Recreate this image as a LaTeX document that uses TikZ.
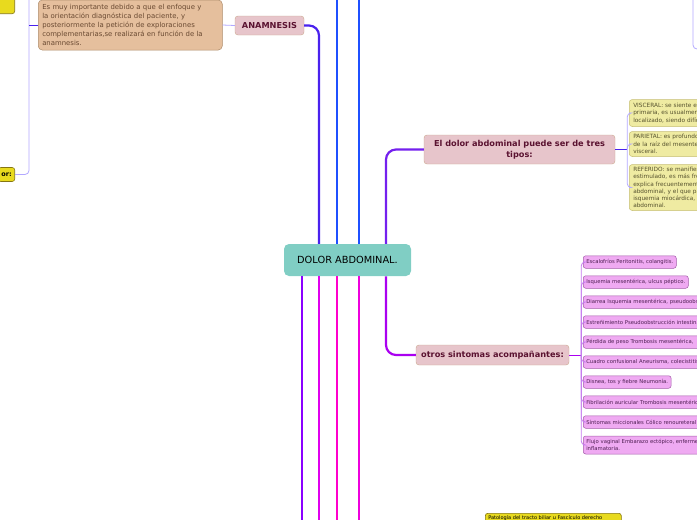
\documentclass[tikz,border=0pt]{standalone}
\usepackage{fontspec}
\setmainfont{DejaVu Sans}
\definecolor{mapteal}{HTML}{80CEC4}
\definecolor{topicpink}{HTML}{E7C5CB}
\definecolor{topicline}{HTML}{C9A98E}
\definecolor{topicmaroon}{HTML}{5A1230}
\definecolor{tanfill}{HTML}{E5BF9D}
\definecolor{tanline}{HTML}{AE8C6A}
\definecolor{tantext}{HTML}{6A4A32}
\definecolor{khakifill}{HTML}{EFEBA2}
\definecolor{khakiline}{HTML}{C6BE74}
\definecolor{khakitext}{HTML}{56522E}
\definecolor{mauvefill}{HTML}{EFAAF2}
\definecolor{mauveline}{HTML}{A45CAA}
\definecolor{mauvetext}{HTML}{4E1E52}
\definecolor{yelfill}{HTML}{E8DA1E}
\definecolor{yelline}{HTML}{857512}
\definecolor{lavline}{HTML}{B2A8FF}
\definecolor{mauvebrack}{HTML}{C47AEE}
\definecolor{indigoline}{HTML}{4A22EE}
\definecolor{blueline}{HTML}{1F50FF}
\definecolor{violetline}{HTML}{7420EE}
\definecolor{purpline}{HTML}{8A00FF}
\definecolor{magline}{HTML}{E000EE}
\definecolor{pinkline}{HTML}{FF00CC}
\definecolor{fuchline}{HTML}{EE00DD}
\definecolor{grapeline}{HTML}{AA00F0}
\begin{document}
\begin{tikzpicture}[x=1pt,y=-1pt,line width=.5pt,
  central/.style={rounded corners=5pt,fill=mapteal,inner sep=0pt,minimum width=127,minimum height=32,font=\fontsize{9.8}{11}\selectfont},
  topic/.style={rounded corners=3pt,fill=topicpink,draw=topicline,line width=.4pt,text=topicmaroon,inner sep=0pt,align=center,font=\bfseries\fontsize{8.2}{10.5}\selectfont},
  tanbox/.style={rounded corners=4pt,fill=tanfill,draw=tanline,text=tantext,inner xsep=4pt,inner ysep=0pt,align=left,font=\fontsize{6.9}{9}\selectfont},
  khakibox/.style={rounded corners=3pt,fill=khakifill,draw=khakiline,text=khakitext,inner xsep=4pt,inner ysep=2pt,text width=130,align=left,font=\fontsize{5.8}{7.2}\selectfont},
  mauvebox/.style={rounded corners=2.5pt,fill=mauvefill,draw=mauveline,text=mauvetext,inner xsep=3pt,inner ysep=0pt,minimum height=12.5,font=\fontsize{5.3}{6.8}\selectfont},
  cutbox/.style={mauvebox,text width=175,align=left},
  yelbox/.style={rounded corners=2.5pt,fill=yelfill,draw=yelline,line width=.6pt,text=black,inner xsep=3pt,inner ysep=2pt},
  trunk/.style={line width=2.2pt,rounded corners=10pt},
  twig/.style={line width=.8pt,rounded corners=4pt}]
\path[use as bounding box] (0,0) rectangle (697,520);
\coordinate (kL) at (29,0);
\coordinate (kR) at (693,0);
\coordinate (kRend) at (700,49);
\coordinate (kA) at (302,520);
\coordinate (kB) at (319,520);
\coordinate (kC) at (337,520);
\coordinate (kD) at (359,520);
\coordinate (kE) at (386,520);
\coordinate (kCtop) at (337,0);
\coordinate (kDtop) at (359,0);
\node[central] (dolor) at (347.5,260) {DOLOR ABDOMINAL.};
\node[topic,minimum width=69,minimum height=19] (anam) at (269.5,25.5) {ANAMNESIS};
\node[tanbox,anchor=west,minimum height=50,text width=176] (tan) at (38,25) {Es muy importante debido a que el enfoque y\\la orientación diagnóstica del paciente, y\\posteriormente la petición de exploraciones\\complementarias,se realizará en función de la\\anamnesis.};
\node[yelbox,anchor=south east,minimum width=30,minimum height=22] (ytop) at (15,14) {};
\node[yelbox,anchor=east,minimum height=14,font=\bfseries\fontsize{6.5}{8}\selectfont] (orbox) at (15,174.5) {or:};
\node[topic,minimum width=191,minimum height=29] (eldolor) at (519.5,149.5) {El dolor abdominal puede ser de tres\\tipos:};
\node[khakibox,anchor=west,minimum height=27] (visc) at (629,113) {VISCERAL: se siente en\\primaria, es usualmente\\localizado, siendo difícil};
\node[khakibox,anchor=west,minimum height=25] (pari) at (629,144) {PARIETAL: es profundo\\de la raíz del mesenterio\\visceral.};
\node[khakibox,anchor=west,minimum height=46] (refe) at (629,187.5) {REFERIDO: se manifiesta\\estimulado, es más frecuente\\explica frecuentemente\\abdominal, y el que padece\\isquemia miocárdica, puede\\abdominal.};
\node[topic,minimum width=153,minimum height=20] (otros) at (492.5,355) {otros sintomas acompañantes:};
\node[mauvebox,anchor=west] (s1) at (583,262) {Escalofríos Peritonitis, colangitis.};
\node[mauvebox,anchor=west] (s2) at (583,282) {Isquemia mesentérica, ulcus péptico.};
\node[cutbox,anchor=west] (s3) at (583,302) {Diarrea Isquemia mesentérica, pseudoobstrucción};
\node[cutbox,anchor=west] (s4) at (583,322) {Estreñimiento Pseudoobstrucción intestinal};
\node[cutbox,anchor=west] (s5) at (583,342) {Pérdida de peso Trombosis mesentérica,};
\node[cutbox,anchor=west] (s6) at (583,362) {Cuadro confusional Aneurisma, colecistitis};
\node[mauvebox,anchor=west] (s7) at (583,382) {Disnea, tos y fiebre Neumonía.};
\node[cutbox,anchor=west] (s8) at (583,402) {Fibrilación auricular Trombosis mesentérica};
\node[cutbox,anchor=west] (s9) at (583,422) {Síntomas miccionales Cólico renoureteral};
\node[cutbox,anchor=west,minimum height=18] (s10) at (583,445) {Flujo vaginal Embarazo ectópico, enfermedad\\inflamatoria.};
\node[yelbox,anchor=north west,text width=130,align=left,font=\fontsize{5}{6.5}\selectfont] (pat) at (485,513) {Patología del tracto biliar u Fascículo derecho};
\draw[trunk,draw=indigoline] (dolor.north -| kB) |- (anam.east);
\draw[trunk,draw=blueline] (dolor.north -| kCtop) -- (kCtop);
\draw[trunk,draw=blueline] (dolor.north -| kDtop) -- (kDtop);
\draw[trunk,draw=violetline] (dolor.north -| kE) |- (eldolor.west);
\draw[trunk,draw=purpline] (dolor.south -| kA) -- (kA);
\draw[trunk,draw=magline] (dolor.south -| kB) -- (kB);
\draw[trunk,draw=pinkline] (dolor.south -| kC) -- (kC);
\draw[trunk,draw=fuchline] (dolor.south -| kD) -- (kD);
\draw[trunk,draw=grapeline] (dolor.south -| kE) |- (otros.west);
\draw[twig,draw=lavline] (anam.west) -- (tan.east);
\draw[twig,draw=lavline] (kL) |- (orbox.east);
\draw[line width=1pt,draw=indigoline] (tan.west) -- (tan.west -| kL);
\draw[twig,draw=lavline] (kR) |- (kRend);
\draw[line width=1pt,draw=indigoline] (eldolor.east) -- ++(12,0);
\foreach \b in {visc,pari,refe}
  \draw[twig,draw=lavline] (eldolor.east) ++(12,0) |- (\b.west);
\draw[line width=1pt,draw=grapeline] (otros.east) -- ++(12,0);
\foreach \b in {s1,s2,s3,s4,s5,s6,s7,s8,s9,s10}
  \draw[twig,draw=mauvebrack] (otros.east) ++(12,0) |- (\b.west);
\end{tikzpicture}
\end{document}
